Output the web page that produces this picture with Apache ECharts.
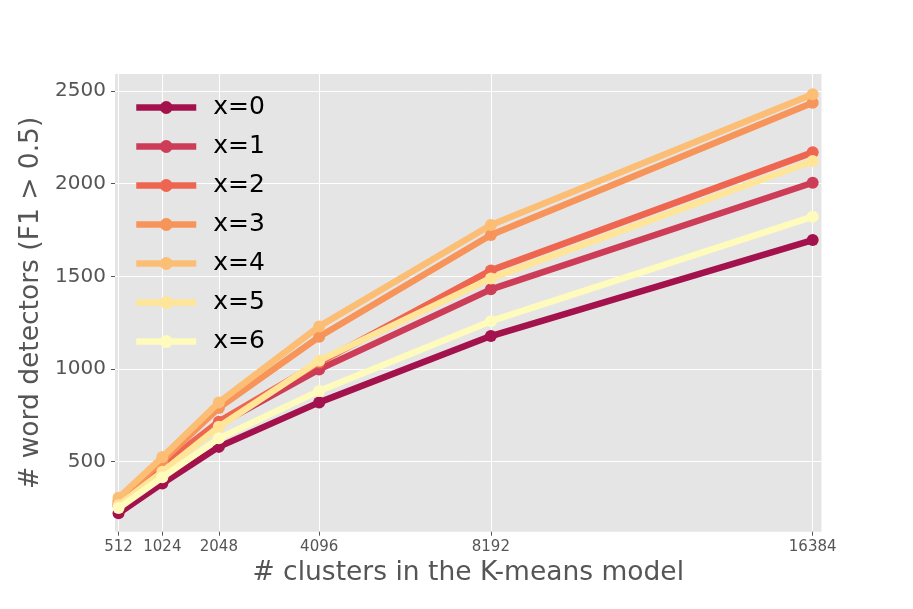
<!DOCTYPE html>
<html>
<head>
<meta charset="utf-8">
<script src="https://cdn.jsdelivr.net/npm/echarts@6/dist/echarts.min.js"></script>
</head>
<body style="margin:0;background:#fff">
<div id="main" style="width:913px;height:609px;"></div>
<script type="text/javascript">
    // cluster sizes shown on the x axis, and where each tick sits on that (non linear) axis, 0..100
    var clusterLabels = ['512', '1024', '2048', '4096', '8192', '16384'];
    var clusterAxisPos = [0.5, 6.7, 14.7, 28.9, 53.2, 98.75];
    var yTicks = [500, 1000, 1500, 2000, 2500];

    var seriesNames = ['x=0', 'x=1', 'x=2', 'x=3', 'x=4', 'x=5', 'x=6'];
    var colors = ['#a3124c', '#cd3d57', '#ee6650', '#f7945a', '#fcbe75', '#fee597', '#fefbbc'];

    // # word detectors per cluster size
    var x0 = [222, 383, 580, 820, 1178, 1696];
    var x1 = [262, 455, 700, 998, 1430, 2005];
    var x2 = [275, 480, 716, 1035, 1532, 2169];
    var x3 = [290, 505, 790, 1174, 1723, 2436];
    var x4 = [305, 525, 820, 1230, 1777, 2483];
    var x5 = [265, 446, 689, 1045, 1489, 2122];
    var x6 = [250, 416, 626, 882, 1258, 1822];
    var allValues = [x0, x1, x2, x3, x4, x5, x6];

    var myChart = echarts.init(document.getElementById('main'));

    var series = [];
    for (var i = 0; i < seriesNames.length; i++) {
        var pts = [];
        for (var j = 0; j < clusterAxisPos.length; j++) {
            pts.push([clusterAxisPos[j], allValues[i][j]]);
        }
        series.push({
            name: seriesNames[i],
            type: 'line',
            data: pts,
            symbol: 'circle',
            symbolSize: 12,
            z: 2 + i,
            lineStyle: {width: 6.5, color: colors[i]},
            itemStyle: {color: colors[i]},
            emphasis: {disabled: true}
        });
    }

    var option = {
        animation: false,
        textStyle: {fontFamily: 'DejaVu Sans'},
        grid: {
            left: 115, top: 74, right: 91.5, bottom: 77.3,
            show: true, backgroundColor: '#e5e5e5', borderWidth: 0
        },
        legend: {
            orient: 'vertical',
            left: 133,
            top: 95,
            padding: 0,
            itemWidth: 60,
            itemHeight: 16,
            itemGap: 14,
            lineStyle: {width: 6.5},
            textStyle: {fontSize: 25, color: '#000', fontFamily: 'DejaVu Sans', padding: [0, 0, 0, 12]},
            data: seriesNames
        },
        xAxis: {
            type: 'value',
            min: 0,
            max: 100,
            name: '# clusters in the K-means model',
            nameLocation: 'middle',
            nameGap: 26,
            nameTextStyle: {fontSize: 26.5, color: '#555', fontFamily: 'DejaVu Sans'},
            axisLine: {show: false},
            axisTick: {show: true, length: 4, lineStyle: {color: '#555'}, customValues: clusterAxisPos},
            axisLabel: {
                fontSize: 15, color: '#555', margin: 8,
                customValues: clusterAxisPos,
                formatter: function (v) {
                    var idx = clusterAxisPos.indexOf(v);
                    return idx >= 0 ? clusterLabels[idx] : '';
                }
            },
            splitLine: {show: true, lineStyle: {color: '#fff', width: 1}}
        },
        yAxis: {
            type: 'value',
            min: 122.4,
            max: 2591.7,
            name: '# word detectors (F1 > 0.5)',
            nameLocation: 'middle',
            nameGap: 52,
            nameTextStyle: {fontSize: 26.5, color: '#555', fontFamily: 'DejaVu Sans'},
            axisLine: {show: false},
            axisTick: {show: true, length: 4, lineStyle: {color: '#555'}, customValues: yTicks},
            axisLabel: {
                fontSize: 20, color: '#555', margin: 9, customValues: yTicks,
                formatter: function (v) { return String(v); }
            },
            splitLine: {show: true, lineStyle: {color: '#fff', width: 1}}
        },
        series: series
    };

    myChart.setOption(option);
</script>
</body>
</html>
